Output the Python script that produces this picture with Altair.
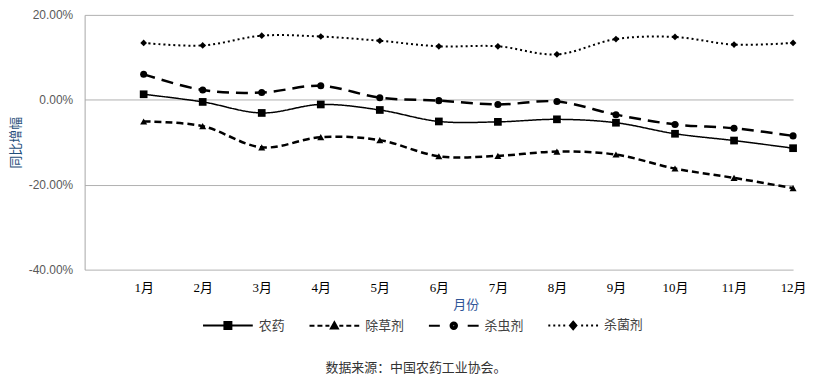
import altair as alt
import pandas as pd

months = ["1月", "2月", "3月", "4月", "5月", "6月", "7月", "8月", "9月", "10月", "11月", "12月"]
series_names = ["农药", "除草剂", "杀虫剂", "杀菌剂"]
nongyao = [1.3, -0.5, -3.1, -1.1, -2.4, -5.1, -5.2, -4.6, -5.4, -8.0, -9.6, -11.4]
chucaoji = [-5.1, -6.2, -11.2, -8.8, -9.5, -13.3, -13.2, -12.2, -12.9, -16.2, -18.4, -20.8]
shachongji = [6.0, 2.3, 1.7, 3.3, 0.5, -0.2, -1.1, -0.4, -3.5, -5.8, -6.7, -8.5]
shajunji = [13.4, 12.8, 15.1, 14.9, 13.9, 12.6, 12.6, 10.7, 14.3, 14.8, 13.0, 13.4]
y_ticks = [-40, -20, 0, 20]
source_text = "数据来源：中国农药工业协会。"

rows = []
for name, vals in zip(series_names, [nongyao, chucaoji, shachongji, shajunji]):
    for m, v in zip(months, vals):
        rows.append({"month": m, "series": name, "value": v})
df = pd.DataFrame(rows)

styles = {
    "农药": dict(dash=[1, 0], width=1.5, shape="square", size=60),
    "除草剂": dict(dash=[7, 4], width=2.5, shape="triangle-up", size=50),
    "杀虫剂": dict(dash=[12, 7], width=2.5, shape="circle", size=50),
    "杀菌剂": dict(dash=[2, 3], width=2, shape="diamond", size=45),
}


# ---- legend symbol paths (line segments + solid-looking marker), unit = 25px ----
def segs(pairs):
    out = ""
    for a, b in pairs:
        out += "M%.2f,0H%.2f" % (-b, -a) + "M%.2f,0H%.2f" % (a, b)
    return out


def square(h):
    return "M%.2f,%.2fH%.2fV%.2fH%.2fZ" % (-h, -h, h, h, -h)


def tri(h):
    return "M0,%.2fL%.2f,%.2fH%.2fZ" % (-h, h, h * 0.75, -h)


def circ(r):
    return "M%.2f,0A%.2f,%.2f,0,1,1,%.2f,0A%.2f,%.2f,0,1,1,%.2f,0Z" % (-r, r, r, r, r, r, -r)


def diam(h):
    return "M0,%.2fL%.2f,0L0,%.2fL%.2f,0Z" % (-h, h * 0.85, h, -h * 0.85)


legend_paths = [
    "M-1,0H1" + square(0.14) + square(0.08) + square(0.02),
    segs([(0.2, 0.36), (0.48, 0.68), (0.8, 1.0)]) + tri(0.14) + tri(0.08) + tri(0.03),
    segs([(0.56, 1.0)]) + circ(0.13) + circ(0.07) + circ(0.02),
    segs([(0.32, 0.4), (0.52, 0.6), (0.72, 0.8), (0.92, 1.0)]) + diam(0.15) + diam(0.09) + diam(0.03),
]

x_domain = [""] + months
cjk = "Noto Sans CJK SC"
x_enc = alt.X(
    "month:N",
    sort=x_domain,
    scale=alt.Scale(type="point", domain=x_domain, padding=0),
    axis=alt.Axis(
        title="月份", titleColor="#2F5597", titleFont=cjk, titleFontSize=13,
        titleFontWeight="normal", titlePadding=4, titleX=383,
        labelFont="'Liberation Serif', 'Noto Sans CJK SC'", labelFontSize=13,
        labelColor="#000000", labelPadding=12, labelAngle=0,
        domain=False, ticks=False, grid=False,
    ),
)
y_enc = alt.Y(
    "value:Q",
    scale=alt.Scale(domain=[-40, 20], nice=False, zero=False),
    axis=alt.Axis(
        values=y_ticks,
        labelExpr="replace(format(datum.value, '.2f'), '\u2212', '-') + '%'",
        labelFont="Liberation Sans", labelFontSize=12, labelColor="#595959",
        labelPadding=12, ticks=False, domain=True, domainColor="#A6A6A6",
        grid=True, gridColor="#B0B0B0",
        title="同比增幅", titleColor="#1F4E79", titleFont=cjk, titleFontSize=13,
        titleFontWeight="normal", titlePadding=6,
    ),
)

base = alt.Chart(df)
layers = []
for name in series_names:
    st = styles[name]
    sub = base.transform_filter(alt.datum.series == name)
    layers.append(
        sub.mark_line(interpolate="cardinal", color="black", strokeDash=st["dash"],
                      strokeWidth=st["width"]).encode(x=x_enc, y=y_enc)
    )
    layers.append(
        sub.mark_point(filled=True, shape=st["shape"], size=st["size"], color="black",
                       opacity=1).encode(x=x_enc, y=y_enc)
    )

legend_spec = alt.Legend(
    title=None, orient="none", legendX=118, legendY=286, direction="horizontal",
    columns=4, symbolSize=2500, symbolStrokeColor="black",
    symbolStrokeWidth=2, symbolOpacity=1, labelFont=cjk, labelFontSize=13,
    labelColor="#404040", labelOffset=5, columnPadding=20, padding=0,
)
legend_layer = base.mark_point(filled=False, opacity=0, color="black").encode(
    x=x_enc, y=y_enc,
    shape=alt.Shape("series:N", sort=series_names,
                    scale=alt.Scale(domain=series_names, range=legend_paths), legend=legend_spec),
)
layers.append(legend_layer)

chart = alt.layer(*layers).properties(
    width=712, height=256,
    padding={"left": 77, "top": 6, "right": 16, "bottom": 106},
    autosize="none",
    title=alt.TitleParams(text=source_text, orient="bottom", anchor="middle", font=cjk,
                          fontSize=13, fontWeight="normal", color="#333333", offset=29, dx=-23),
).configure_view(stroke=None)

chart.save("out.html", embed_options={"renderer": "svg", "actions": False})
